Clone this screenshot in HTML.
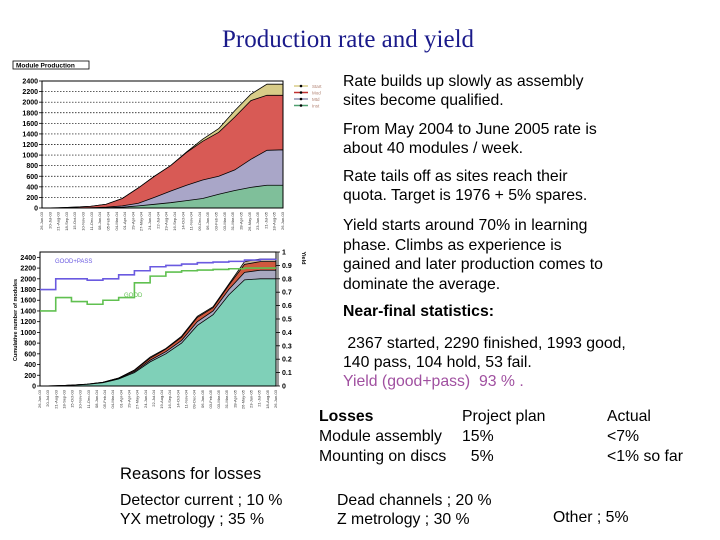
<!DOCTYPE html>
<html><head><meta charset="utf-8">
<style>
html,body{margin:0;padding:0;background:#fff;}
#root{position:relative;width:720px;height:540px;overflow:hidden;font-family:"Liberation Sans",sans-serif;}
.t{position:absolute;font-size:15.8px;color:#000;white-space:nowrap;line-height:1;}
svg{position:absolute;left:0;top:0;}
</style></head><body>
<div id="root">
<div class="t" style="left:222px;top:27px;font-family:'Liberation Serif',serif;font-size:25px;color:#1a1a8a;">Production rate and yield</div>

<svg id="chart" width="720" height="540"></svg>

<div class="t" style="left:343px;top:72px;line-height:19px;">Rate builds up slowly as assembly<br>sites become qualified.</div>
<div class="t" style="left:343px;top:120px;line-height:19px;">From May 2004 to June 2005 rate is<br>about 40 modules / week.</div>
<div class="t" style="left:343px;top:167px;line-height:19px;">Rate tails off as sites reach their<br>quota. Target is 1976 + 5% spares.</div>
<div class="t" style="left:343px;top:216px;line-height:19.5px;">Yield starts around 70% in learning<br>phase. Climbs as experience is<br>gained and later production comes to<br>dominate the average.</div>
<div class="t" style="left:343px;top:304px;font-weight:bold;">Near-final statistics:</div>
<div class="t" style="left:343px;top:334px;line-height:19px;">&nbsp;2367 started, 2290 finished, 1993 good,<br>140 pass, 104 hold, 53 fail.<br><span style="color:#a050a0">Yield (good+pass)&nbsp; 93 % .</span></div>

<div class="t" style="left:319px;top:407px;line-height:20px;"><b>Losses</b><br>Module assembly<br>Mounting on discs</div>
<div class="t" style="left:462px;top:407px;line-height:20px;">Project plan<br>15%<br>&nbsp;&nbsp;5%</div>
<div class="t" style="left:607px;top:407px;line-height:20px;">Actual<br>&lt;7%<br>&lt;1% so far</div>

<div class="t" style="left:120px;top:466px;font-size:16.6px;">Reasons for losses</div>
<div class="t" style="left:120px;top:491px;line-height:19px;">Detector current ; 10 %<br>YX metrology ; 35 %</div>
<div class="t" style="left:337px;top:491px;line-height:19px;">Dead channels ; 20 %<br>Z metrology ; 30 %</div>
<div class="t" style="left:553px;top:510px;">Other ; 5%</div>
</div>
<script>
// Top chart data (cumulative stacked totals, 16 time samples)
const topGreen  = [0,0,0,0,5,15,40,70,100,140,180,260,330,390,430,430];
const topPurple = [0,0,0,5,15,40,90,200,320,430,530,600,720,920,1090,1100];
const topRed    = [0,5,15,30,70,180,380,600,800,1050,1260,1430,1720,2030,2130,2130];
const topYellow = [0,5,15,30,70,180,380,600,800,1060,1300,1500,1840,2150,2340,2340];
const topTicks  = [0,200,400,600,800,1000,1200,1400,1600,1800,2000,2200,2400];
// Bottom chart data
const botTeal = [0,5,15,30,60,130,250,450,600,800,1130,1330,1700,1980,2000,2000];
const botGray = [0,5,15,32,65,140,270,480,640,850,1200,1400,1800,2120,2160,2160];
const botRed  = [0,5,15,35,70,150,290,520,690,910,1280,1460,1880,2270,2320,2320];
const botTan  = [0,5,15,35,70,150,300,540,700,930,1300,1480,1900,2320,2370,2370];
const yieldGP   = [0.72,0.8,0.8,0.79,0.8,0.83,0.86,0.89,0.9,0.91,0.92,0.925,0.93,0.94,0.945,0.95];
const yieldGood = [0.56,0.66,0.63,0.61,0.64,0.66,0.77,0.82,0.85,0.86,0.865,0.87,0.875,0.88,0.88,0.88];
const botTicks = [0,200,400,600,800,1000,1200,1400,1600,1800,2000,2200,2400];
const yTicks = [0,0.1,0.2,0.3,0.4,0.5,0.6,0.7,0.8,0.9,1];
const dateLabels = ["26-Jun-03","20-Jul-03","21-Aug-03","18-Sep-03","15-Oct-03","10-Nov-03","11-Dec-03","08-Jan-04","05-Feb-04","04-Mar-04","01-Apr-04","29-Apr-04","27-May-04","24-Jun-04","22-Jul-04","19-Aug-04","16-Sep-04","14-Oct-04","11-Nov-04","09-Dec-04","06-Jan-05","03-Feb-05","03-Mar-05","31-Mar-05","28-Apr-05","26-May-05","23-Jun-05","21-Jul-05","18-Aug-05"];

const svg=document.getElementById('chart');
const NS='http://www.w3.org/2000/svg';
function mk(tag,attrs,parent){const e=document.createElementNS(NS,tag);for(const k in attrs)e.setAttribute(k,attrs[k]);(parent||svg).appendChild(e);return e;}

function drawChart(cfg){
  const {x0,x1,y0,y1,ymax,layers,ticks,name}=cfg;
  const n=layers[0].vals.length;
  const X=i=>x0+(x1-x0)*i/(n-1);
  const Y=v=>y1-(y1-y0)*v/ymax;
  const g=mk('g',{});
  
  
  if(cfg.grid){ticks.forEach(t=>{const l=mk('line',{x1:x0,x2:x1,y1:Y(t),y2:Y(t),stroke:'#000','stroke-width':0.7,'stroke-dasharray':'1.5,1.5'},g);});}
  for(let L=layers.length-1;L>=0;L--){
    const v=layers[L].vals;
    let pts=`${X(0)},${Y(0)} `;
    v.forEach((val,i)=>{pts+=`${X(i)},${Y(val)} `;});
    pts+=`${X(n-1)},${Y(0)}`;
    const p=mk('polygon',{points:pts,fill:layers[L].color,stroke:'#000','stroke-width':0.8},g);
    
    
  }
  const fr=mk('rect',{x:x0,y:y0,width:x1-x0,height:y1-y0,fill:'none',stroke:'#000','stroke-width':1},g);
  
  ticks.forEach(t=>{
    mk('line',{x1:x0-3,x2:x0,y1:Y(t),y2:Y(t),stroke:'#000','stroke-width':0.8},g);
    const tx=mk('text',{x:x0-4,y:Y(t)+2.5,'font-size':7,'text-anchor':'end','font-family':'Liberation Sans, sans-serif','font-weight':'bold'},g);
    tx.textContent=t;
    
  });
  const m=cfg.nLabels;
  for(let i=0;i<m;i++){
    const xx=x0+(x1-x0)*i/(m-1);
    const tx=mk('text',{x:0,y:0,'font-size':4,'text-anchor':'end','font-family':'Liberation Sans, sans-serif',transform:`translate(${xx+1},${y1+4}) rotate(-90)`,fill:'#333'},g);
    tx.textContent=dateLabels[i%dateLabels.length];
    
  }
  return {X,Y,g};
}

const tb=mk('rect',{x:13,y:61,width:76,height:8,fill:'#fff',stroke:'#000','stroke-width':0.8});

const tt=mk('text',{x:16,y:67.5,'font-size':6.5,'font-weight':'bold','font-family':'Liberation Sans, sans-serif'});
tt.textContent='Module Production';

drawChart({name:'module-production-chart',x0:42,x1:283,y0:81,y1:208,ymax:2400,grid:true,ticks:topTicks,nLabels:30,
  layers:[{vals:topGreen,color:'#7fbf9a',name:'area-inst'},{vals:topPurple,color:'#a9a6c8',name:'area-mtd'},{vals:topRed,color:'#d85a55',name:'area-ok'},{vals:topYellow,color:'#d8cc88',name:'area-start'}]});
const legC=['#d8cc88','#c03030','#9090b0','#50a070'],legT=['Start','Mod','Mtd','Inst'];
legC.forEach((c,i)=>{const y=86+i*6.5;
  const l=mk('line',{x1:294,x2:308,y1:y,y2:y,stroke:c,'stroke-width':1.5});
  mk('circle',{cx:301,cy:y,r:1.3,fill:'#000'});
  const t=mk('text',{x:312,y:y+2,'font-size':4.5,fill:'#b08070','font-family':'Liberation Sans, sans-serif'});t.textContent=legT[i];
  });

const b=drawChart({name:'cumulative-modules-chart',x0:40,x1:276,y0:252,y1:386,ymax:2500,grid:false,ticks:botTicks,nLabels:30,
  layers:[{vals:botTeal,color:'#7fd0b8',name:'area-good'},{vals:botGray,color:'#a8a8c0',name:'area-pass'},{vals:botRed,color:'#d0583e',name:'area-hold'},{vals:botTan,color:'#c8b8a0',name:'area-fail'}]});
const YR=v=>386-(386-252)*v;
function step(vals,color,name){
  let d='';vals.forEach((v,i)=>{const x=b.X(i);const y=YR(v);d+=(i===0?`M${x},${y}`:`H${x}V${y}`);});
  d+=`H${276}`;
  const p=mk('path',{d:d,fill:'none',stroke:color,'stroke-width':1.6});
  
}
step(yieldGP,'#6a5ae0','yield-good-pass-line');
step(yieldGood,'#60c050','yield-good-line');
const ra=mk('line',{x1:278,x2:278,y1:252,y2:386,stroke:'#000','stroke-width':0.8});

yTicks.forEach(t=>{mk('line',{x1:276,x2:280,y1:YR(t),y2:YR(t),stroke:'#000','stroke-width':0.8});
  const tx=mk('text',{x:282,y:YR(t)+2.5,'font-size':7,'font-weight':'bold','font-family':'Liberation Sans, sans-serif'});tx.textContent=t;
  });
const yl=mk('text',{x:0,y:0,'font-size':5.5,'font-weight':'bold','font-family':'Liberation Sans, sans-serif','text-anchor':'middle',transform:'translate(17,320) rotate(-90)'});
yl.textContent='Cumulative number of modules';
const yr=mk('text',{x:0,y:0,'font-size':5.5,'font-weight':'bold','font-family':'Liberation Sans, sans-serif','text-anchor':'middle',transform:'translate(302,258) rotate(90)'});
yr.textContent='Yield';
const lg=mk('text',{x:55,y:263,'font-size':6,fill:'#6a5ae0','font-family':'Liberation Sans, sans-serif'});lg.textContent='GOOD+PASS';

const lg2=mk('text',{x:124,y:297,'font-size':6,fill:'#60c050','font-family':'Liberation Sans, sans-serif'});lg2.textContent='GOOD';

</script>
</body></html>
